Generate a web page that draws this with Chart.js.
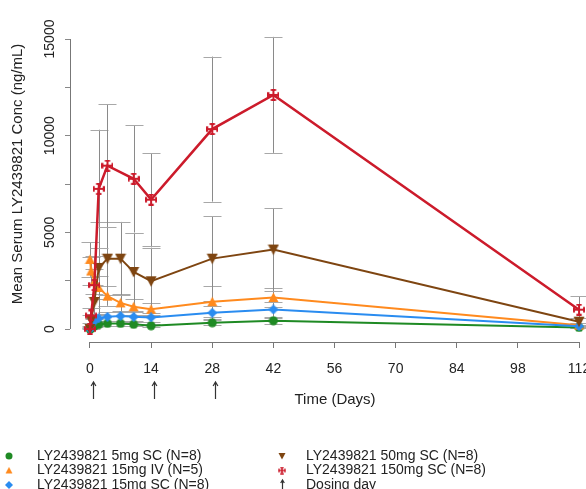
<!DOCTYPE html>
<html>
<head>
<meta charset="utf-8">
<script src="https://cdn.jsdelivr.net/npm/chart.js@4.4.0/dist/chart.umd.min.js"></script>
<style>
  html, body { margin: 0; padding: 0; background: #fff; }
  #chart { display: block; }
</style>
</head>
<body>
<canvas id="chart" width="586" height="489"></canvas>
<script>
// sampling days (same grid for every group, null = no value plotted)
const days = [0, 0.25, 1, 2, 4, 7, 10, 14, 28, 42, 112]

const conc5sc = [0, 30, 150, 240, 290, 290, 240, 170, 325, 430, 80]
const sd5sc = [0, 20, 60, 90, 110, 120, 100, 90, 140, 160, 40]

const conc15iv = [3600, 3000, 2450, 2150, 1700, 1350, 1150, 1020, 1410, 1630, 200]
const sd15iv = [900, 700, 650, 600, 500, 450, 400, 350, 800, 500, 100]

const conc15sc = [0, 80, 400, 550, 630, 670, 630, 600, 840, 1010, 140]
const sd15sc = [0, 40, 150, 200, 230, 250, 230, 220, 330, 380, 80]

const conc50sc = [0, 450, 1400, 3160, 3640, 3640, 2950, 2470, 3640, 4110, 380]
const sd50sc = [0, 300, 900, 2400, 1900, 1900, 2000, 1740, 2180, 2150, 200]

const conc150sc = [0, 700, 2270, 7250, 8450, null, 7770, 6690, 10340, 12110, 1000]
const sd150sc = [0, 400, 1500, 3060, 3180, null, 2780, 2400, 3750, 3000, 700]

const seriesLabels = [
  'LY2439821 5mg SC (N=8)',
  'LY2439821 15mg IV (N=5)',
  'LY2439821 15mg SC (N=8)',
  'LY2439821 50mg SC (N=8)',
  'LY2439821 150mg SC (N=8)',
]
const dosingDays = [0, 14, 28]
const xTicks = [0, 14, 28, 42, 56, 70, 84, 98, 112]
const yTicks = [0, 2500, 5000, 7500, 10000, 12500, 15000]

const FONT = '"Liberation Sans", Arial, sans-serif'

function makeMarker(kind, color, s) {
  const c = document.createElement('canvas')
  c.width = s
  c.height = s
  const g = c.getContext('2d')
  const m = s / 2
  g.fillStyle = color
  g.strokeStyle = color
  if (kind === 'circle') {
    g.beginPath()
    g.arc(m, m, m - 0.5, 0, Math.PI * 2)
    g.fill()
  } else if (kind === 'triangle') {
    g.beginPath()
    g.moveTo(m, 0.5)
    g.lineTo(s - 0.5, s - 1)
    g.lineTo(0.5, s - 1)
    g.closePath()
    g.fill()
  } else if (kind === 'down') {
    g.beginPath()
    g.moveTo(0.5, 1)
    g.lineTo(s - 0.5, 1)
    g.lineTo(m, s - 0.5)
    g.closePath()
    g.fill()
  } else if (kind === 'diamond') {
    g.beginPath()
    g.moveTo(m, 0)
    g.lineTo(s, m)
    g.lineTo(m, s)
    g.lineTo(0, m)
    g.closePath()
    g.fill()
  } else if (kind === 'cross') {
    const cap = s * 0.22
    g.lineWidth = Math.max(1.5, s / 6)
    g.beginPath()
    g.moveTo(m, 1); g.lineTo(m, s - 1)
    g.moveTo(1, m); g.lineTo(s - 1, m)
    g.moveTo(m - cap, 1); g.lineTo(m + cap, 1)
    g.moveTo(m - cap, s - 1); g.lineTo(m + cap, s - 1)
    g.moveTo(1, m - cap); g.lineTo(1, m + cap)
    g.moveTo(s - 1, m - cap); g.lineTo(s - 1, m + cap)
    g.stroke()
  }
  return c
}

const groups = [
  { values: conc5sc, sd: sd5sc, color: '#1f8a24', kind: 'circle', size: 10, width: 2 },
  { values: conc15iv, sd: sd15iv, color: '#ff8a1e', kind: 'triangle', size: 11, width: 2 },
  { values: conc15sc, sd: sd15sc, color: '#2a8cf0', kind: 'diamond', size: 10, width: 2 },
  { values: conc50sc, sd: sd50sc, color: '#7e4511', kind: 'down', size: 12, width: 2 },
  { values: conc150sc, sd: sd150sc, color: '#cc1b2b', kind: 'cross', size: 12, width: 2.5 },
]

const toPoints = (vals) =>
  days.map((d, i) => ({ x: d, y: vals[i] })).filter((p) => p.y !== null)

const datasets = groups.map((g, i) => ({
  label: seriesLabels[i],
  data: toPoints(g.values),
  borderColor: g.color,
  backgroundColor: g.color,
  borderWidth: g.width,
  pointStyle: makeMarker(g.kind, g.color, g.size),
  pointRadius: g.size / 2,
  tension: 0,
  sd: g.sd,
  order: 5 - i,
}))

const legendMarkers = groups.map((g) => makeMarker(g.kind, g.color, 8))

const rPlot = {
  id: 'rPlot',
  beforeDatasetsDraw(chart) {
    const { ctx } = chart
    const xs = chart.scales.x
    const ys = chart.scales.y
    ctx.save()
    ctx.lineWidth = 1
    chart.data.datasets.forEach((ds) => {
      days.forEach((d, i) => {
        const m = ds.data.find((p) => p.x === d)
        const s = ds.sd[i]
        if (!m || !s) return
        const x = Math.round(xs.getPixelForValue(d)) + 0.5
        const y1 = ys.getPixelForValue(m.y + s)
        const y2 = ys.getPixelForValue(Math.max(m.y - s, 0))
        ctx.strokeStyle = '#8a8a8a'
        ctx.beginPath()
        ctx.moveTo(x, y1)
        ctx.lineTo(x, y2)
        ctx.stroke()
        ctx.strokeStyle = '#a8a8a8'
        ctx.beginPath()
        ctx.moveTo(x - 9, Math.round(y1) + 0.5)
        ctx.lineTo(x + 9, Math.round(y1) + 0.5)
        ctx.moveTo(x - 9, Math.round(y2) + 0.5)
        ctx.lineTo(x + 9, Math.round(y2) + 0.5)
        ctx.stroke()
      })
    })
    ctx.restore()
  },
  afterDraw(chart) {
    const { ctx, chartArea } = chart
    const xs = chart.scales.x
    const ys = chart.scales.y
    ctx.save()
    // axis lines over the tick range only
    ctx.strokeStyle = '#777'
    ctx.lineWidth = 1
    ctx.beginPath()
    const bx = chartArea.bottom + 0.5
    ctx.moveTo(xs.getPixelForValue(xTicks[0]), bx)
    ctx.lineTo(xs.getPixelForValue(xTicks[xTicks.length - 1]), bx)
    const lx = chartArea.left + 0.5
    ctx.moveTo(lx, ys.getPixelForValue(yTicks[0]))
    ctx.lineTo(lx, ys.getPixelForValue(yTicks[yTicks.length - 1]))
    ctx.stroke()

    // y tick labels, parallel to the axis
    ctx.fillStyle = '#222'
    ctx.font = '14px ' + FONT
    ctx.textAlign = 'center'
    ctx.textBaseline = 'middle'
    ys.ticks.forEach((t) => {
      if (t.value % 5000 !== 0) return
      ctx.save()
      ctx.translate(50, ys.getPixelForValue(t.value))
      ctx.rotate(-Math.PI / 2)
      ctx.fillText(String(t.value), 0, 0)
      ctx.restore()
    })

    // axis titles
    ctx.font = '15px ' + FONT
    ctx.fillText('Time (Days)', 335, 400)
    ctx.save()
    ctx.translate(18, 174)
    ctx.rotate(-Math.PI / 2)
    ctx.fillText('Mean Serum LY2439821 Conc (ng/mL)', 0, 0)
    ctx.restore()

    // dosing arrows
    const arrow = (x, top, bottom, head) => {
      ctx.beginPath()
      ctx.moveTo(x, bottom)
      ctx.lineTo(x, top)
      ctx.moveTo(x - head * 0.6, top + head)
      ctx.lineTo(x, top)
      ctx.lineTo(x + head * 0.6, top + head)
      ctx.stroke()
    }
    ctx.strokeStyle = '#333'
    ctx.lineWidth = 1.2
    dosingDays.forEach((d) => {
      arrow(Math.round(xs.getPixelForValue(d)) + 3.5, 382, 399, 4)
    })

    // legend, two columns
    const cols = [{ mx: 9, tx: 37 }, { mx: 282, tx: 306 }]
    const rows = [456, 470.5, 485]
    ctx.font = '14px ' + FONT
    ctx.textAlign = 'left'
    ctx.fillStyle = '#222'
    const entries = seriesLabels.map((l, i) => ({ label: l, marker: legendMarkers[i] }))
    entries.push({ label: 'Dosing day', marker: null })
    entries.forEach((e, i) => {
      const c = cols[Math.floor(i / 3)]
      const y = rows[i % 3]
      if (e.marker) {
        ctx.drawImage(e.marker, c.mx - e.marker.width / 2, y - e.marker.height / 2)
      } else {
        arrow(c.mx + 0.5, y - 5, y + 6, 3)
      }
      ctx.fillText(e.label, c.tx, y)
    })
    ctx.restore()
  },
}

const config = {
  type: 'line',
  data: { datasets },
  options: {
    responsive: false,
    animation: false,
    devicePixelRatio: 1,
    layout: { autoPadding: false, padding: { top: 10, left: 0, right: 0, bottom: 0 } },
    plugins: {
      legend: { display: false },
      tooltip: { enabled: false },
    },
    scales: {
      x: {
        type: 'linear',
        position: 'bottom',
        min: -4.58,
        max: 113.6,
        afterBuildTicks: (scale) => {
          scale.ticks = xTicks.map((v) => ({ value: v }))
        },
        afterFit: (scale) => {
          scale.height = 147
          scale.paddingLeft = 0
          scale.paddingRight = 0
        },
        ticks: {
          autoSkip: false,
          maxRotation: 0,
          padding: 13,
          color: '#222',
          font: { family: FONT, size: 14 },
          callback: (v) => String(v),
        },
        grid: { drawOnChartArea: false, tickLength: 6, color: '#777' },
        border: { display: false },
      },
      y: {
        type: 'linear',
        min: -672,
        max: 16500,
        afterBuildTicks: (scale) => {
          scale.ticks = yTicks.map((v) => ({ value: v }))
        },
        afterFit: (scale) => {
          scale.width = 70
        },
        ticks: { display: false },
        grid: { drawOnChartArea: false, tickLength: 5, color: '#888' },
        border: { display: false },
      },
    },
  },
  plugins: [rPlot],
}

const ctx = document.getElementById('chart').getContext('2d')
new Chart(ctx, config)
</script>
</body>
</html>
